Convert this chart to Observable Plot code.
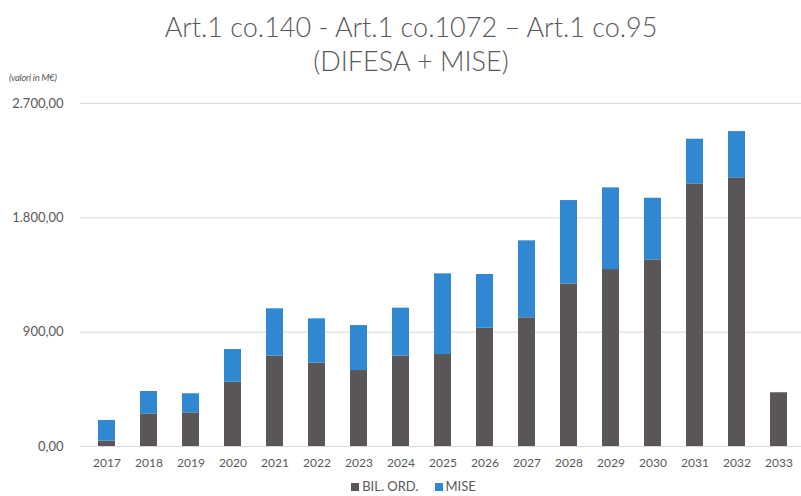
<!DOCTYPE html>
<html>
<head>
<meta charset="utf-8">
<script src="https://cdn.jsdelivr.net/npm/d3@7"></script>
<script src="https://cdn.jsdelivr.net/npm/@observablehq/plot@0.6"></script>
<style>
  html, body { margin: 0; padding: 0; background: #fff; }
  body { width: 801px; height: 496px; overflow: hidden; font-family: Lato, "Open Sans", sans-serif; color: #595959; position: relative; }
  #title { position: relative; height: 80px; text-align: center; }
  #title .l1 { position: absolute; left: 0; width: 822px; top: 10px; font-size: 27px; font-weight: 300; line-height: 34px; }
  #title .l2 { position: absolute; left: 0; width: 822px; top: 44px; font-size: 27px; font-weight: 300; line-height: 34px; }
  #title .unit { position: absolute; left: 9px; top: 72px; font-size: 9.5px; font-style: italic; line-height: 12px; letter-spacing: -0.3px; }
  #legend { position: absolute; top: 479px; left: 0; width: 801px; display: flex; justify-content: center; gap: 16px; font-size: 13px; line-height: 15px; padding-left: 26px; box-sizing: border-box; }
  #legend span.sw { display: inline-block; width: 8px; height: 8px; margin-right: 3px; vertical-align: 0px; }
  svg { display: block; }
</style>
</head>
<body>
<div id="title">
  <div class="l1">Art.1 co.140 - Art.1 co.1072 – Art.1 co.95</div>
  <div class="l2">(DIFESA + MISE)</div>
  <div class="unit">(valori in M€)</div>
</div>
<div id="chart"></div>
<div id="legend"></div>
<script>
const years = ["2017","2018","2019","2020","2021","2022","2023","2024","2025","2026","2027","2028","2029","2030","2031","2032","2033"];
const bilOrd = [42, 257, 265, 506, 711, 656, 598, 711, 724, 931, 1013, 1280, 1393, 1469, 2067, 2115, 423];
const mise   = [163, 176, 150, 257, 373, 349, 354, 378, 635, 423, 606, 656, 643, 485, 352, 364, 0];
const seriesNames = ["BIL. ORD.", "MISE"];
const seriesColors = ["#5a5657", "#2f88d1"];
const yTicks = [0, 900, 1800, 2700];

const data = [];
years.forEach((y, i) => {
  data.push({year: y, series: seriesNames[0], value: bilOrd[i]});
  data.push({year: y, series: seriesNames[1], value: mise[i]});
});

const itFmt = d3.formatLocale({decimal: ",", thousands: ".", grouping: [3], currency: ["", "€"]}).format(",.2f");

const plot = Plot.plot({
  width: 801,
  height: 395,
  marginTop: 23,
  marginBottom: 29,
  marginLeft: 80,
  marginRight: -3,
  style: {fontFamily: "Lato, 'Open Sans', sans-serif", color: "#595959", background: "#fff"},
  x: {domain: years, paddingInner: 0.6, paddingOuter: 0.3, label: null, tickSize: 0, tickPadding: 12},
  y: {domain: [0, 2700], ticks: yTicks, tickFormat: itFmt, label: null, tickSize: 0, tickPadding: 17},
  color: {domain: seriesNames, range: seriesColors},
  marks: [
    Plot.ruleY(yTicks, {stroke: "#d9d9d9", strokeWidth: 1}),
    Plot.barY(data, {x: "year", y: "value", fill: "series", order: seriesNames}),
    Plot.axisX({tickSize: 0, tickPadding: 12, fontSize: 12, label: null}),
    Plot.axisY({ticks: yTicks, tickFormat: itFmt, tickSize: 0, tickPadding: 17, fontSize: 13, label: null})
  ]
});
document.getElementById("chart").appendChild(plot);

const leg = document.getElementById("legend");
seriesNames.forEach((n, i) => {
  const d = document.createElement("div");
  d.innerHTML = `<span class="sw" style="background:${seriesColors[i]}"></span>${n}`;
  leg.appendChild(d);
});
</script>
</body>
</html>
